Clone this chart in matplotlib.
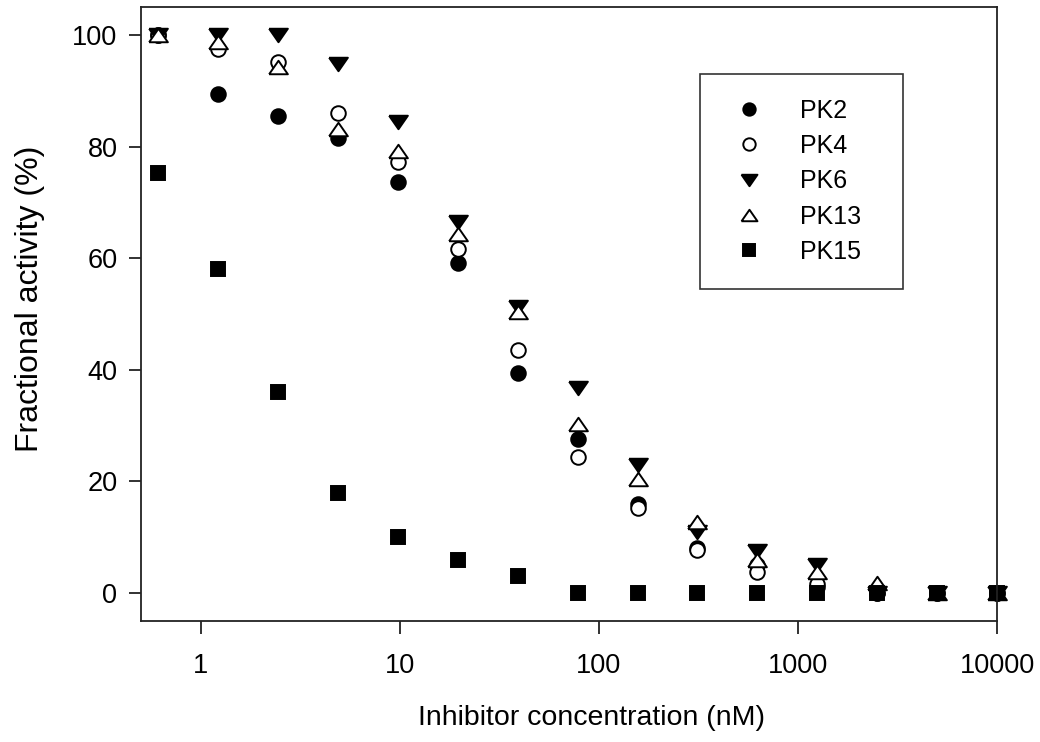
import numpy as np
from matplotlib import pyplot as plt

plt.rcParams['font.family'] = ['Liberation Sans', 'DejaVu Sans']

# inhibitor concentration (nM), two-fold dilution series
conc = [0.61, 1.22, 2.44, 4.88, 9.77, 19.53, 39.06, 78.13, 156.25, 312.5,
        625, 1250, 2500, 5000, 10000]

pk2 = [100, 89.4, 85.5, 81.5, 73.6, 59.2, 39.5, 27.6, 16.0, 8.0, 5.0, 1.0, 0, 0, 0]
pk4 = [100, 97.5, 95.1, 86.0, 77.2, 61.6, 43.5, 24.4, 15.3, 7.7, 3.8, 1.7, 0, 0, 0]
pk6 = [100, 100, 100, 94.8, 84.4, 66.4, 51.2, 36.8, 23.0, 11.0, 7.6, 5.0, 0, 0, 0]
pk13 = [100, 98.7, 94.2, 83.1, 79.2, 64.3, 50.3, 30.3, 20.5, 12.8, 5.9, 3.8, 1.8, 0, 0]
pk15 = [75.2, 58.0, 36.0, 18.0, 10.0, 6.0, 3.0, 0, 0, 0, 0, 0, 0, 0, 0]

# flattened triangles, like the SigmaPlot symbols
tri_down = [(-1, 0.72), (1, 0.72), (0, -0.72), (-1, 0.72)]
tri_up = [(-1, -0.72), (1, -0.72), (0, 0.72), (-1, -0.72)]

series = [
    ('PK2', pk2, 'o', 'black', 10.5),
    ('PK4', pk4, 'o', 'white', 10.5),
    ('PK6', pk6, tri_down, 'black', 13.5),
    ('PK13', pk13, tri_up, 'white', 13.5),
    ('PK15', pk15, 's', 'black', 9.5),
]

fig = plt.figure(figsize=(10.4, 7.42), dpi=100)
ax = fig.add_axes([0.1356, 0.1631, 0.8231, 0.8275])

for name, vals, mk, face, ms in series:
    ax.plot(conc, vals, linestyle='none', marker=mk, markersize=ms,
            markerfacecolor=face, markeredgecolor='black', markeredgewidth=1.4,
            label=name, clip_on=False)

ax.set_xscale('log')
ax.set_xlim(0.5, 10000)
ax.set_ylim(-5, 105)
ax.set_xticks([1, 10, 100, 1000, 10000])
ax.set_xticklabels(['1', '10', '100', '1000', '10000'])
ax.minorticks_off()
ax.set_yticks([0, 20, 40, 60, 80, 100])

for s in ax.spines.values():
    s.set_linewidth(1.3)
    s.set_color('#222222')
ax.tick_params(direction='out', length=9, width=1.3, labelsize=19.5,
               color='#222222')
ax.tick_params(axis='y', pad=8)
ax.tick_params(axis='x', pad=14)

ax.set_xlabel('Inhibitor concentration (nM)', fontsize=20.5)
ax.set_ylabel('Fractional activity (%)', fontsize=23)
ax.xaxis.set_label_coords(0.526, -0.137)
ax.yaxis.set_label_coords(-0.112, 0.524)

leg = ax.legend(loc='upper left', bbox_to_anchor=(0.653, 0.549, 0.237, 0.342),
                mode='expand', fontsize=18,
                frameon=True, fancybox=False, edgecolor='black',
                markerscale=0.85, handletextpad=1.1, labelspacing=0.45,
                borderpad=1.0, borderaxespad=0, handlelength=1.9)
leg.get_frame().set_linewidth(1.2)

plt.savefig('out.png', dpi=100)
